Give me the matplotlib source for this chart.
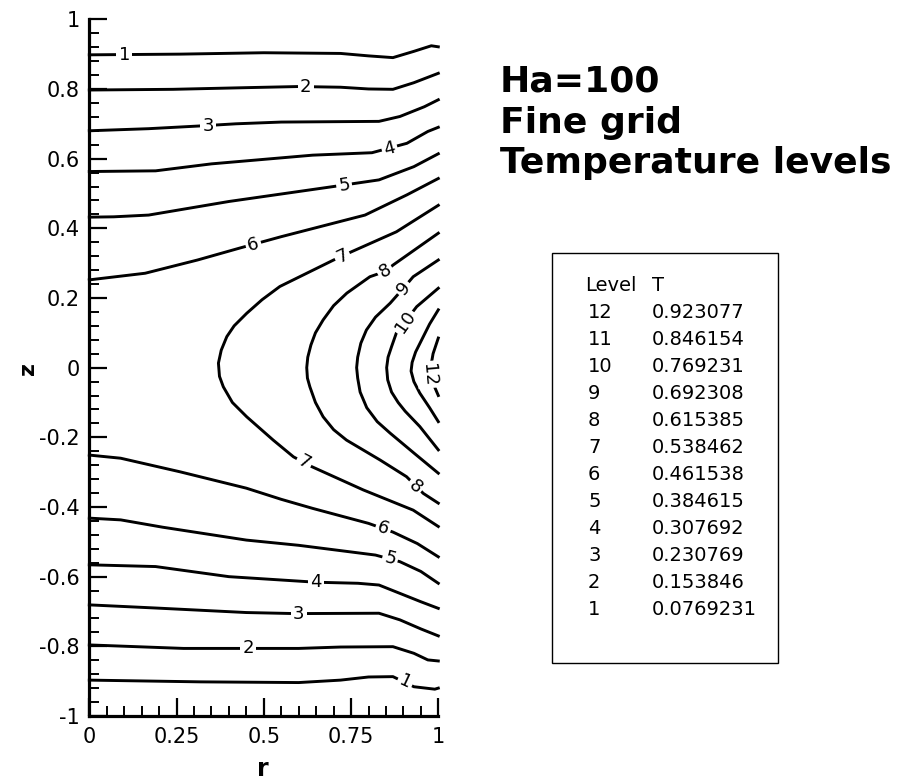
import matplotlib
matplotlib.use("Agg")
import matplotlib.pyplot as plt
from matplotlib.ticker import MultipleLocator
from matplotlib.patches import Rectangle

plt.rcParams['font.family'] = ['DejaVu Sans']
plt.rcParams['axes.unicode_minus'] = False

# ---------------- data ----------------
levels = [12, 11, 10, 9, 8, 7, 6, 5, 4, 3, 2, 1]
T_values = [0.923077, 0.846154, 0.769231, 0.692308, 0.615385, 0.538462,
            0.461538, 0.384615, 0.307692, 0.230769, 0.153846, 0.0769231]

# contour polylines, (r, z) pairs
level1_top = [(0, 0.898), (0.26, 0.900), (0.5, 0.904), (0.72, 0.902), (0.80, 0.895),
              (0.87, 0.890), (0.93, 0.908), (0.98, 0.924), (1.0, 0.921)]
level2_top = [(0, 0.797), (0.24, 0.799), (0.46, 0.804), (0.60, 0.807), (0.72, 0.805),
              (0.80, 0.800), (0.87, 0.799), (0.93, 0.818), (1.0, 0.845)]
level3_top = [(0, 0.680), (0.17, 0.686), (0.32, 0.694), (0.42, 0.700), (0.55, 0.705),
              (0.83, 0.707), (0.89, 0.721), (0.96, 0.749), (1.0, 0.769)]
level4_top = [(0, 0.563), (0.19, 0.565), (0.35, 0.585), (0.64, 0.610), (0.81, 0.617),
              (0.91, 0.644), (0.97, 0.678), (1.0, 0.690)]
level5_top = [(0, 0.432), (0.07, 0.433), (0.17, 0.438), (0.40, 0.477), (0.70, 0.520),
              (0.83, 0.539), (0.93, 0.577), (1.0, 0.614)]
level6_top = [(0, 0.252), (0.16, 0.271), (0.31, 0.309), (0.43, 0.343), (0.55, 0.376),
              (0.79, 0.438), (0.91, 0.496), (1.0, 0.543)]
level7 = [(1.0, 0.466), (0.88, 0.390), (0.752, 0.333), (0.70, 0.309), (0.546, 0.233),
          (0.495, 0.195), (0.451, 0.156), (0.415, 0.12), (0.394, 0.089), (0.378, 0.05),
          (0.370, 0.013), (0.373, -0.025), (0.384, -0.055), (0.41, -0.10),
          (0.451, -0.141), (0.527, -0.208), (0.585, -0.256), (0.637, -0.284),
          (0.785, -0.351), (0.928, -0.409), (1.0, -0.456)]
level8 = [(1.0, 0.386), (0.871, 0.295), (0.847, 0.276), (0.804, 0.261), (0.738, 0.214),
          (0.70, 0.178), (0.670, 0.137), (0.648, 0.10), (0.635, 0.065), (0.626, 0.03),
          (0.623, 0.0), (0.625, -0.03), (0.632, -0.055), (0.648, -0.10), (0.670, -0.141),
          (0.70, -0.178), (0.737, -0.208), (0.833, -0.265), (0.909, -0.313),
          (0.957, -0.361), (1.0, -0.389)]
level9 = [(1.0, 0.309), (0.928, 0.261), (0.90, 0.228), (0.862, 0.185), (0.82, 0.145),
          (0.794, 0.108), (0.778, 0.07), (0.769, 0.03), (0.766, 0.0), (0.769, -0.03),
          (0.776, -0.07), (0.795, -0.115), (0.825, -0.155), (0.862, -0.188),
          (0.93, -0.245), (1.0, -0.303)]
level10 = [(1.0, 0.228), (0.938, 0.175), (0.905, 0.132), (0.880, 0.10), (0.866, 0.06),
           (0.856, 0.03), (0.852, 0.0), (0.855, -0.035), (0.866, -0.07), (0.885, -0.10),
           (0.905, -0.125), (0.947, -0.169), (1.0, -0.236)]
level11 = [(1.0, 0.166), (0.975, 0.125), (0.957, 0.089), (0.935, 0.045), (0.925, 0.015),
           (0.922, -0.01), (0.930, -0.04), (0.947, -0.073), (0.975, -0.115), (1.0, -0.155)]
level12 = [(1.0, 0.085), (0.985, 0.04), (0.978, 0.0), (0.985, -0.045), (1.0, -0.08)]
level6_bottom = [(0, -0.251), (0.09, -0.260), (0.26, -0.299), (0.45, -0.346), (0.55, -0.378),
                 (0.64, -0.404), (0.80, -0.447), (0.87, -0.472), (0.94, -0.505), (1.0, -0.543)]
level5_bottom = [(0, -0.432), (0.09, -0.437), (0.21, -0.458), (0.45, -0.495), (0.60, -0.510),
                 (0.82, -0.538), (0.89, -0.557), (0.95, -0.585), (1.0, -0.619)]
level4_bottom = [(0, -0.566), (0.19, -0.571), (0.40, -0.600), (0.65, -0.616), (0.77, -0.619),
                 (0.83, -0.624), (0.89, -0.648), (0.95, -0.672), (1.0, -0.691)]
level3_bottom = [(0, -0.681), (0.19, -0.690), (0.45, -0.703), (0.59, -0.706), (0.83, -0.705),
                 (0.89, -0.724), (0.95, -0.750), (1.0, -0.770)]
level2_bottom = [(0, -0.796), (0.27, -0.806), (0.60, -0.806), (0.72, -0.802), (0.87, -0.801),
                 (0.93, -0.820), (0.97, -0.839), (1.0, -0.842)]
level1_bottom = [(0, -0.897), (0.32, -0.902), (0.60, -0.904), (0.72, -0.897), (0.80, -0.888),
                 (0.87, -0.887), (0.91, -0.906), (0.93, -0.916), (0.99, -0.923), (1.0, -0.920)]

contour_lines = [level1_top, level2_top, level3_top, level4_top, level5_top, level6_top,
                 level7, level8, level9, level10, level11, level12,
                 level6_bottom, level5_bottom, level4_bottom, level3_bottom,
                 level2_bottom, level1_bottom]

# contour labels: (text, r, z, angle)
label_spots = [("1", 0.10, 0.898, 0), ("2", 0.62, 0.806, 0), ("3", 0.34, 0.694, 0),
               ("4", 0.86, 0.630, 15), ("5", 0.73, 0.524, 8), ("6", 0.47, 0.354, 15),
               ("7", 0.725, 0.320, 25), ("8", 0.847, 0.278, 30), ("9", 0.90, 0.228, 50),
               ("10", 0.905, 0.130, 55), ("12", 0.972, -0.02, -85),
               ("7", 0.615, -0.272, -28), ("8", 0.933, -0.342, -40),
               ("6", 0.842, -0.462, -20), ("5", 0.862, -0.548, -15),
               ("4", 0.65, -0.616, 0), ("3", 0.60, -0.706, 0), ("2", 0.455, -0.806, 0),
               ("1", 0.905, -0.902, -25)]

x_ticks = [0, 0.25, 0.5, 0.75, 1]
x_ticklabels = ["0", "0.25", "0.5", "0.75", "1"]
y_ticks = [-1, -0.8, -0.6, -0.4, -0.2, 0, 0.2, 0.4, 0.6, 0.8, 1]
y_ticklabels = ["-1", "-0.8", "-0.6", "-0.4", "-0.2", "0", "0.2", "0.4", "0.6", "0.8", "1"]

# ---------------- figure ----------------
W, H = 905, 781
fig = plt.figure(figsize=(W / 100, H / 100), dpi=100)
fig.patch.set_facecolor("white")

ax_l, ax_r, ax_t, ax_b = 89.3, 438.3, 19.3, 716.0
ax = fig.add_axes([ax_l / W, 1 - ax_b / H, (ax_r - ax_l) / W, (ax_b - ax_t) / H])
ax.set_xlim(0, 1)
ax.set_ylim(-1, 1)

for pts in contour_lines:
    rs = [p[0] for p in pts]
    zs = [p[1] for p in pts]
    ax.plot(rs, zs, color="black", lw=2.1, solid_joinstyle="round", clip_on=False, zorder=2)

for txt, r, z, ang in label_spots:
    ax.text(r, z, txt, fontsize=13, ha="center", va="center", rotation=ang,
            rotation_mode="anchor", zorder=4,
            bbox=dict(boxstyle="square,pad=0.12", fc="white", ec="none"))

for s in ["top", "right"]:
    ax.spines[s].set_visible(False)
for s in ["left", "bottom"]:
    ax.spines[s].set_linewidth(2.3)

ax.set_xticks(x_ticks)
ax.set_xticklabels(x_ticklabels)
ax.set_yticks(y_ticks)
ax.set_yticklabels(y_ticklabels)
ax.xaxis.set_minor_locator(MultipleLocator(0.05))
ax.yaxis.set_minor_locator(MultipleLocator(0.04))
ax.tick_params(which="major", direction="in", length=13, width=1.6, labelsize=15,
               top=False, right=False)
ax.tick_params(which="minor", direction="in", length=7, width=1.4,
               top=False, right=False)
ax.tick_params(axis="x", which="major", pad=8)
ax.tick_params(axis="y", which="major", pad=7)

fig.text(28 / W, 1 - 368 / H, "z", fontsize=16, fontweight="bold", rotation=90,
         ha="center", va="center")
fig.text(263 / W, 1 - 769 / H, "r", fontsize=17, fontweight="bold",
         ha="center", va="center")

# title block
for txt, yb in [("Ha=100", 91.7), ("Fine grid", 132.7), ("Temperature levels", 173.3)]:
    fig.text(500 / W, 1 - yb / H, txt, fontsize=26, fontweight="bold",
             ha="left", va="baseline")

# legend box
bx0, by0, bx1, by1 = 551.7, 253.0, 777.7, 662.7
fig.patches.append(Rectangle((bx0 / W, 1 - by1 / H), (bx1 - bx0) / W, (by1 - by0) / H,
                             transform=fig.transFigure, fill=False, ec="black", lw=1.0))
row0, dy = 285.0, 27.08
fig.text(585 / W, 1 - row0 / H, "Level", fontsize=14, ha="left", va="center")
fig.text(651.7 / W, 1 - row0 / H, "T", fontsize=14, ha="left", va="center")
for i, (lv, tv) in enumerate(zip(levels, T_values)):
    y = row0 + dy * (i + 1)
    fig.text(588 / W, 1 - y / H, str(lv), fontsize=14, ha="left", va="center")
    fig.text(651.7 / W, 1 - y / H, f"{tv:g}", fontsize=14, ha="left", va="center")

fig.savefig("out.png", dpi=100, facecolor="white")
